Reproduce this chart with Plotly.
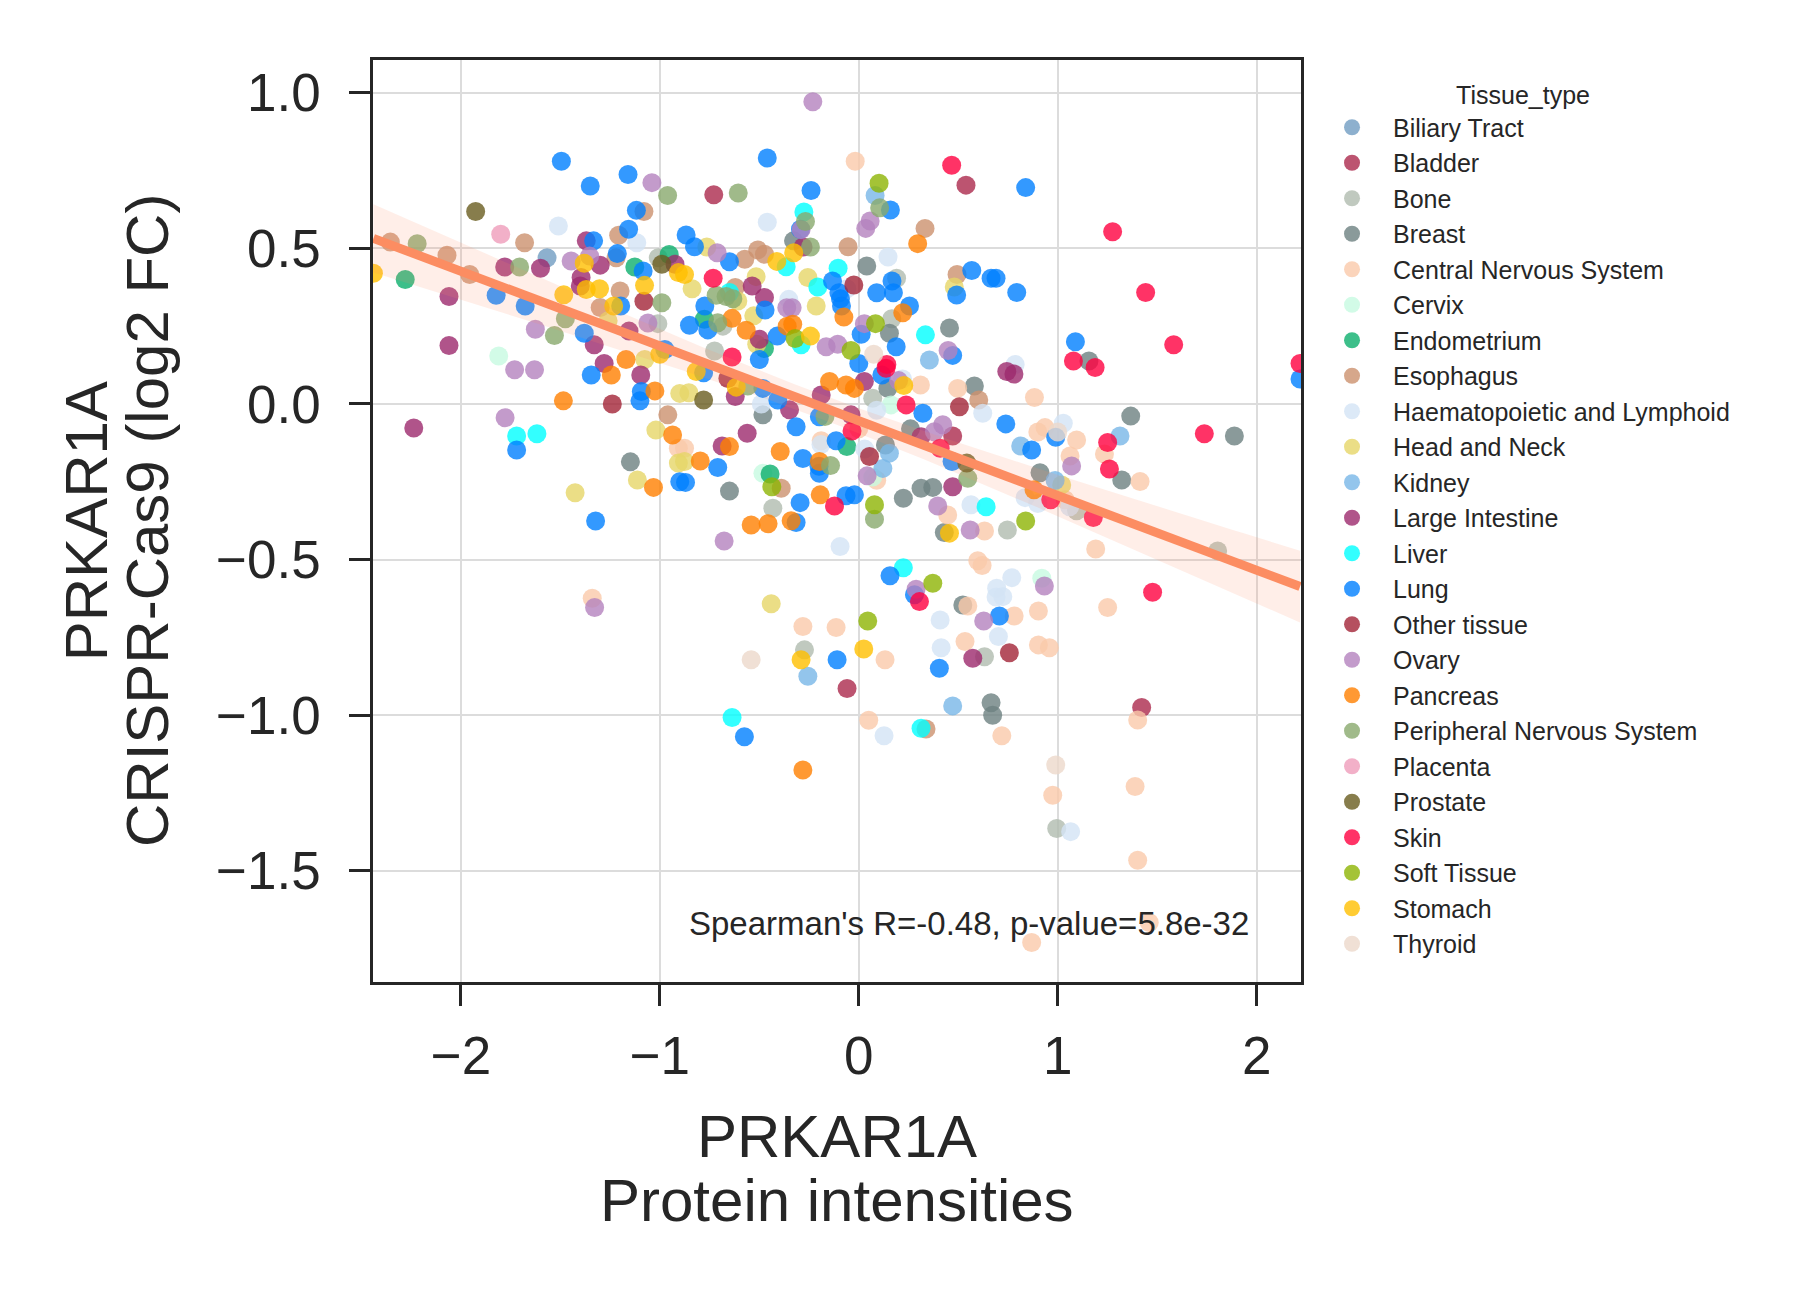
import numpy as np
import plotly.graph_objects as go

# points, (protein intensity, CRISPR log2 FC) per tissue
biliary_tract = [(-1.567, 0.47)]
bladder = [(0.539, 0.703), (-0.729, 0.672), (0.472, -0.103), (-0.059, -0.914), (1.422, -0.975)]
bone = [(-1.008, 0.47), (-1.01, 0.258), (-0.683, 0.25), (0.19, 0.404), (0.166, 0.274), (-0.725, 0.17),
        (-0.432, -0.335), (0.07, 0.018), (-0.273, -0.79), (0.632, -0.812), (1.095, -0.343), (0.747, -0.405),
        (1.804, -0.472), (0.995, -1.364)]
breast = [(-0.328, 0.524), (0.04, 0.443), (0.154, 0.227), (0.456, 0.244), (1.157, 0.138), (-1.148, -0.186),
          (-0.482, -0.035), (-0.65, -0.28), (0.146, 0.05), (0.134, -0.132), (0.224, -0.303), (0.313, -0.271),
          (0.372, -0.268), (0.43, -0.413), (0.581, 0.058), (0.26, -0.08), (0.523, -0.646), (1.367, -0.039),
          (1.322, -0.244), (1.888, -0.103), (0.911, -0.221), (0.665, -0.96), (0.673, -1.0)]
cns = [(-0.018, 0.78), (-1.34, -0.624), (-0.907, -0.142), (-0.876, -0.142), (-0.189, -0.118), (0.0, -0.08),
       (0.09, -0.245), (0.447, -0.357), (0.632, -0.408), (0.31, 0.061), (0.497, 0.05), (0.598, -0.504),
       (0.62, -0.519), (0.548, -0.649), (-0.281, -0.715), (-0.114, -0.718), (0.132, -0.822), (0.534, -0.763),
       (0.883, 0.021), (0.936, -0.076), (1.095, -0.116), (1.235, -0.161), (1.414, -0.249), (1.062, -0.167),
       (1.037, -0.308), (1.191, -0.466), (0.781, -0.681), (0.903, -0.665), (1.251, -0.654), (0.903, -0.774),
       (0.958, -0.783), (0.90, -0.09), (0.05, -1.016), (0.719, -1.066), (1.402, -1.015), (0.975, -1.257),
       (1.389, -1.229), (1.402, -1.466), (1.46, -1.666), (0.869, -1.73)]
cervix = [(-1.81, 0.154), (-0.482, -0.223), (0.162, -0.003), (0.07, -0.235), (0.92, -0.56)]
endometrium = [(-2.28, 0.40), (-1.126, 0.44), (-0.953, 0.48), (-0.776, 0.272), (-0.474, 0.178),
               (-0.06, -0.137), (-0.446, -0.225)]
esophagus = [(-2.355, 0.52), (-2.07, 0.478), (-1.956, 0.416), (-1.68, 0.518), (-1.08, 0.618), (-1.207, 0.542),
             (-1.22, 0.47), (-1.20, 0.363), (-1.30, 0.31), (0.333, 0.564), (-0.054, 0.505), (-0.508, 0.495),
             (-0.474, 0.481), (-0.573, 0.465), (-0.621, 0.374), (0.494, 0.416), (-0.96, -0.035),
             (-0.39, -0.271), (0.603, 0.013), (0.338, -1.044)]
haem = [(-1.51, 0.572), (-1.116, 0.518), (-0.46, 0.584), (0.147, 0.472), (-0.352, 0.336), (-0.06, 0.37),
        (0.786, 0.127), (-0.49, 0.0), (0.09, -0.02), (-0.19, -0.13), (0.03, -0.145), (-0.094, -0.458),
        (0.564, -0.324), (0.623, -0.03), (0.409, -0.694), (0.414, -0.783), (0.69, -0.62), (0.22, 0.08),
        (1.028, -0.062), (0.836, -0.301), (0.90, -0.32), (0.769, -0.558), (0.693, -0.592), (0.724, -0.619),
        (0.702, -0.747), (1.06, -0.33), (0.127, -1.066), (1.065, -1.374)]
head_neck = [(-1.26, 0.267), (-1.076, 0.143), (-0.764, 0.504), (-0.516, 0.409), (-0.256, 0.406),
             (-0.838, 0.37), (-0.608, 0.331), (-0.214, 0.315), (-0.528, 0.283), (-0.513, 0.192), (0.48, 0.376),
             (-1.02, -0.084), (-1.113, -0.244), (-1.426, -0.285), (-0.9, 0.034), (-0.907, -0.19),
             (-0.854, 0.036), (-0.876, -0.185), (-0.44, -0.642), (1.02, -0.26)]
kidney = [(0.082, 0.67), (0.355, 0.141), (0.154, -0.158), (0.121, -0.207), (-0.256, -0.875), (0.814, -0.135),
          (1.313, -0.103), (0.987, -0.246), (0.472, -0.97)]
large_intestine = [(-2.06, 0.345), (-2.06, 0.188), (-1.78, 0.44), (-1.60, 0.436), (-1.37, 0.524), (-1.30, 0.446),
                   (-1.396, 0.406), (-1.33, 0.19), (-1.155, 0.234), (-0.924, 0.449), (-1.28, 0.13),
                   (-1.40, 0.379), (-0.28, 0.504), (-0.536, 0.379), (-0.474, 0.342), (-0.5, 0.208),
                   (0.744, 0.104), (0.78, 0.096), (-1.096, 0.093), (-2.237, -0.077), (-0.621, 0.024),
                   (-0.348, -0.019), (-0.561, -0.094), (-0.687, -0.135), (0.028, 0.072), (-0.189, 0.029),
                   (-0.039, -0.035), (0.472, -0.266), (0.313, -0.105), (0.573, -0.817)]
liver = [(-0.276, 0.617), (-0.104, 0.436), (-0.365, 0.441), (-0.206, 0.376), (-0.65, 0.358), (0.335, 0.222),
         (-0.29, 0.19), (-1.72, -0.103), (-1.618, -0.096), (0.64, -0.33), (0.224, -0.526), (-0.637, -1.007),
         (0.313, -1.042)]
lung = [(-1.823, 0.349), (-1.677, 0.315), (-1.495, 0.78), (-1.35, 0.70), (-1.16, 0.737), (-1.118, 0.622),
        (-1.157, 0.561), (-1.214, 0.483), (-1.084, 0.427), (-1.333, 0.524), (-1.197, 0.315), (-1.38, 0.227),
        (-0.975, 0.175), (-0.46, 0.79), (-0.24, 0.686), (0.159, 0.623), (-0.293, 0.561), (-0.65, 0.457),
        (-0.826, 0.505), (-0.868, 0.543), (-0.132, 0.395), (-0.774, 0.315), (-0.471, 0.302), (-0.1, 0.357),
        (-0.092, 0.338), (-0.087, 0.315), (-0.851, 0.253), (-0.759, 0.238), (0.09, 0.357), (0.174, 0.357),
        (0.167, 0.395), (0.255, 0.315), (0.012, 0.224), (-0.41, 0.218), (-0.5, 0.143), (0.188, 0.184),
        (0.472, 0.156), (0.568, 0.429), (0.492, 0.35), (0.665, 0.404), (0.0, 0.13), (0.839, 0.695),
        (0.69, 0.404), (0.794, 0.358), (1.089, 0.2), (2.218, 0.08), (-1.345, 0.093), (-1.093, 0.04),
        (-1.10, 0.01), (-1.72, -0.148), (-1.323, -0.376), (-0.9, -0.25), (-0.78, 0.10), (-0.482, 0.05),
        (-0.407, 0.013), (-0.315, -0.073), (-0.709, -0.204), (-0.871, -0.252), (-0.281, -0.175),
        (-0.114, -0.118), (-0.198, -0.223), (-0.2, -0.2), (-0.295, -0.317), (-0.064, -0.295),
        (-0.022, -0.292), (-0.315, -0.381), (0.322, -0.03), (0.116, 0.093), (-0.198, -0.041),
        (0.469, -0.185), (0.157, -0.552), (0.28, -0.613), (-0.109, -0.822), (0.405, -0.849),
        (0.739, -0.064), (0.99, -0.107), (0.869, -0.148), (0.707, -0.681), (-0.575, -1.069)]
other_tissue = [(-1.08, 0.33), (-0.025, 0.382), (-1.239, 0.0), (-0.658, 0.082), (0.054, -0.169),
                (0.506, -0.009), (0.757, -0.799)]
ovary = [(-1.73, 0.11), (-1.63, 0.11), (-1.626, 0.24), (-1.446, 0.459), (-1.04, 0.711), (-1.353, 0.475),
         (-1.06, 0.26), (-1.778, -0.044), (-0.231, 0.971), (-0.29, 0.56), (0.057, 0.588), (0.035, 0.564),
         (-0.712, 0.486), (-0.362, 0.309), (-0.335, 0.309), (0.028, 0.258), (-0.164, 0.184), (-0.106, 0.192),
         (0.449, 0.172), (-1.328, -0.654), (-0.677, -0.44), (0.042, -0.231), (0.397, -0.328), (0.56, -0.405),
         (0.422, -0.067), (0.38, -0.089), (0.288, -0.595), (0.628, -0.697), (0.2, 0.075), (1.07, -0.199),
         (0.933, -0.585)]
pancreas = [(-1.17, 0.143), (0.296, 0.515), (-0.637, 0.275), (-0.566, 0.237), (-0.075, 0.279), (0.221, 0.293),
            (-0.332, 0.256), (-0.36, 0.25), (-1.244, 0.093), (-1.485, 0.01), (-1.025, 0.042), (-0.936, -0.10),
            (-1.032, -0.268), (-0.65, -0.137), (-0.797, -0.183), (-0.395, -0.153), (-0.198, -0.185),
            (-0.194, -0.292), (-0.541, -0.389), (-0.456, -0.385), (-0.34, -0.375), (-0.147, 0.072),
            (-0.064, 0.061), (-0.022, 0.05), (0.881, -0.276), (-0.281, -1.176)]
pns = [(-2.22, 0.515), (-1.705, 0.44), (-0.961, 0.67), (-0.99, 0.325), (-1.475, 0.274), (-1.53, 0.22),
       (-0.606, 0.678), (0.105, 0.63), (-0.268, 0.586), (-0.243, 0.504), (-0.717, 0.349), (-0.667, 0.345),
       (-0.633, 0.338), (-0.709, 0.261), (-0.558, 0.058), (-0.142, -0.198), (0.079, -0.37), (0.548, -0.239),
       (-0.17, -0.04)]
placenta = [(-1.80, 0.545)]
prostate = [(-1.926, 0.618), (-0.99, 0.449), (-0.78, 0.013), (0.543, -0.19)]
skin = [(0.467, 0.767), (-0.732, 0.404), (-0.637, 0.151), (0.141, 0.127), (1.276, 0.553), (1.442, 0.358),
        (1.583, 0.19), (2.218, 0.13), (1.079, 0.138), (1.188, 0.117), (-0.122, -0.328), (-0.034, -0.087),
        (0.238, -0.003), (0.137, 0.115), (0.409, -0.142), (0.305, -0.635), (1.251, -0.124), (1.26, -0.209),
        (1.737, -0.096), (0.965, -0.308), (1.179, -0.365), (1.477, -0.605)]
soft_tissue = [(0.102, 0.709), (0.084, 0.258), (-0.32, 0.21), (-0.039, 0.172), (-0.437, -0.266),
               (0.079, -0.324), (0.372, -0.576), (0.045, -0.697), (0.839, -0.376)]
stomach = [(-2.44, 0.42), (-1.38, 0.452), (-1.37, 0.368), (-1.303, 0.37), (-1.483, 0.351), (-1.232, 0.315),
           (-1.077, 0.381), (-0.907, 0.422), (-1.0, 0.16), (-0.327, 0.486), (-0.412, 0.458), (-0.876, 0.416),
           (-0.243, 0.218), (-0.817, 0.104), (-0.616, 0.054), (0.226, 0.059), (0.456, -0.415),
           (-0.29, -0.822), (0.025, -0.787)]
thyroid = [(0.075, 0.16), (-0.541, -0.822), (1.0, -0.09), (0.99, -1.16)]

tissues = ["Biliary Tract", "Bladder", "Bone", "Breast", "Central Nervous System", "Cervix", "Endometrium",
           "Esophagus", "Haematopoietic and Lymphoid", "Head and Neck", "Kidney", "Large Intestine", "Liver",
           "Lung", "Other tissue", "Ovary", "Pancreas", "Peripheral Nervous System", "Placenta", "Prostate",
           "Skin", "Soft Tissue", "Stomach", "Thyroid"]
points = [biliary_tract, bladder, bone, breast, cns, cervix, endometrium, esophagus, haem, head_neck, kidney,
          large_intestine, liver, lung, other_tissue, ovary, pancreas, pns, placenta, prostate, skin,
          soft_tissue, stomach, thyroid]
colors = ["#709CC2", "#AB294C", "#B0BBAF", "#6D8181", "#FAC9AA", "#C7FAE1", "#0DAF6D", "#CC916E", "#D3E3F5",
          "#E6D668", "#78B7E7", "#9C296D", "#00FFFF", "#0080FF", "#A32437", "#B482BE", "#FF8000", "#88A96D",
          "#EF9CBA", "#695C1F", "#FF0040", "#8DB404", "#FFBF00", "#ECD8CA"]

stats_text = "Spearman's R=-0.48, p-value=5.8e-32"
line_color = "#FC8D62"
font = "Liberation Sans, Arial, sans-serif"
ink = "#262626"

fig = go.Figure()

for name, pts, col in zip(tissues, points, colors):
    xs = [p[0] for p in pts]
    ys = [p[1] for p in pts]
    fig.add_trace(go.Scatter(x=xs, y=ys, mode="markers", name=name, legendgroup=name,
                             marker=dict(color=col, size=19, opacity=0.8, line=dict(width=0))))

# linear fit with 95% band, like seaborn regplot
x_all = np.array([p[0] for pts in points for p in pts])
y_all = np.array([p[1] for pts in points for p in pts])
slope, intercept = np.polyfit(x_all, y_all, 1)
n = len(x_all)
resid = y_all - (slope * x_all + intercept)
s = np.sqrt(np.sum(resid ** 2) / (n - 2))
xm = x_all.mean()
sxx = np.sum((x_all - xm) ** 2)
xg = np.linspace(x_all.min(), x_all.max(), 100)
yg = slope * xg + intercept
half = 1.97 * s * np.sqrt(1.0 / n + (xg - xm) ** 2 / sxx)

fig.add_trace(go.Scatter(x=np.concatenate([xg, xg[::-1]]), y=np.concatenate([yg + half, (yg - half)[::-1]]),
                         fill="toself", fillcolor="rgba(252,141,98,0.15)", line=dict(width=0),
                         mode="lines", showlegend=False, hoverinfo="skip"))
fig.add_trace(go.Scatter(x=xg, y=yg, mode="lines", line=dict(color=line_color, width=9), showlegend=False))

fig.add_annotation(x=-0.863, y=-1.669, xref="x", yref="y", text=stats_text, showarrow=False,
                   xanchor="left", yanchor="middle", font=dict(size=33, color=ink, family=font))

# axis titles, one line each so the line spacing matches
title_font = dict(size=60, color=ink, family=font)
fig.add_annotation(x=0.5, y=-0.1676, xref="paper", yref="paper", text="PRKAR1A", showarrow=False,
                   xanchor="center", yanchor="middle", font=title_font)
fig.add_annotation(x=0.5, y=-0.2375, xref="paper", yref="paper", text="Protein intensities", showarrow=False,
                   xanchor="center", yanchor="middle", font=title_font)
fig.add_annotation(x=-0.309, y=0.5, xref="paper", yref="paper", text="PRKAR1A", showarrow=False,
                   textangle=-90, xanchor="center", yanchor="middle", font=title_font)
fig.add_annotation(x=-0.2435, y=0.5, xref="paper", yref="paper", text="CRISPR-Cas9 (log2 FC)", showarrow=False,
                   textangle=-90, xanchor="center", yanchor="middle", font=title_font)

axis_common = dict(showline=True, linecolor=ink, linewidth=2.5, mirror=True,
                   showgrid=True, gridcolor="#dcdcdc", gridwidth=1.5, zeroline=False,
                   ticks="outside", ticklen=21, tickwidth=2.5, tickcolor=ink,
                   tickfont=dict(size=53, color=ink, family=font))

fig.update_layout(
    width=1802, height=1295, template="none",
    paper_bgcolor="white", plot_bgcolor="white",
    margin=dict(l=365, r=509, t=52, b=321),
    font=dict(family=font, color=ink),
    xaxis=dict(range=[-2.442, 2.223], tickvals=[-2, -1, 0, 1, 2], ticklabelstandoff=5, **axis_common),
    yaxis=dict(range=[-1.857, 1.105], tickvals=[-1.5, -1.0, -0.5, 0.0, 0.5, 1.0], tickformat=".1f",
               ticklabelstandoff=18, **axis_common),
    legend=dict(x=1.0108, y=0.987, xanchor="left", yanchor="top", font=dict(size=25, color=ink),
                title=dict(text="Tissue_type", side="top center", font=dict(size=25)),
                itemwidth=72, tracegroupgap=0, bgcolor="rgba(0,0,0,0)"),
)

fig.write_html("out.html")
